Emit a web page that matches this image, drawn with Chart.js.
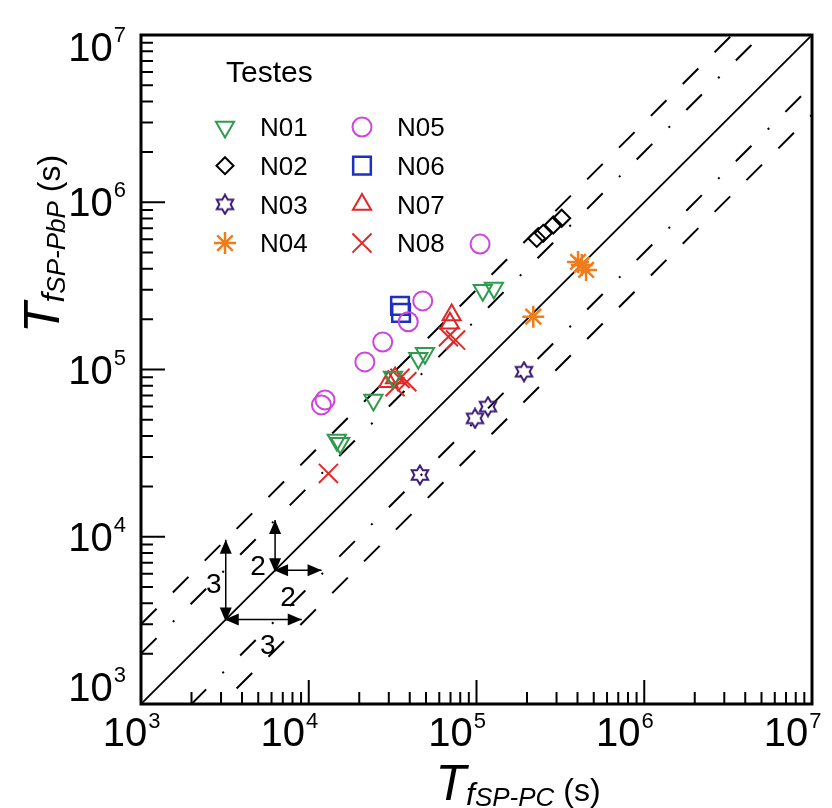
<!DOCTYPE html>
<html>
<head>
<meta charset="utf-8">
<script src="https://cdn.jsdelivr.net/npm/chart.js@4.4.1/dist/chart.umd.min.js"></script>
<style>
  html, body { margin: 0; padding: 0; background: #fff; }
  #wrap { width: 832px; height: 808px; }
</style>
</head>
<body>
<div id="wrap"><canvas id="chart"></canvas></div>
<script>
// axis range, log-log, seconds
const axisMin = 1e3;
const axisMax = 1e7;
const decades = [1e3, 1e4, 1e5, 1e6, 1e7];
const tickExponents = ['3', '4', '5', '6', '7'];

// reference lines  y = k * x
const refFactors = [1, 2, 3, 1 / 2, 1 / 3];

// test series: Tf SP-PC (x) vs Tf SP-PbP (y)
const n01X = [14700, 15400, 24300, 31800, 45000, 49300, 109000, 127000];
const n01Y = [37900, 36200, 65800, 90100, 116600, 125000, 298000, 307000];

const n02X = [228600, 250000, 287000, 322000];
const n02Y = [608000, 652000, 731000, 802000];

const n03X = [192000, 117000, 98000, 46000];
const n03Y = [97000, 60000, 51000, 23400];

const n04X = [403000, 424000, 450000, 218000];
const n04Y = [440000, 422000, 394000, 207000];

const n05X = [105000, 47800, 39200, 27600, 21600, 12500, 11900];
const n05Y = [562000, 257000, 193000, 146000, 111000, 65800, 61400];

const n06X = [35000, 35500];
const n06Y = [240000, 218000];

const n07X = [71100, 69500, 29800, 32700];
const n07Y = [212000, 189000, 84500, 89000];

const n08X = [68000, 75000, 35000, 38400, 32700, 13100];
const n08Y = [157000, 150000, 88500, 84500, 78900, 23900];

// factor-of-2 / factor-of-3 arrows, base point on y = x
const arrowBases = [3200, 6300];
const arrowFactors = [3, 2];

const FONT = '"Liberation Sans", Arial, sans-serif';

function pts(xs, ys) {
    return xs.map((x, i) => ({ x: x, y: ys[i] }));
}

// six-pointed star outline used for N03
function hexagram(color) {
    const c = document.createElement('canvas');
    c.width = 22; c.height = 22;
    const g = c.getContext('2d');
    g.strokeStyle = color;
    g.lineWidth = 2;
    g.beginPath();
    for (let i = 0; i < 12; i++) {
        const r = i % 2 === 0 ? 9.5 : 5.6;
        const a = -Math.PI / 2 + i * Math.PI / 6;
        const px = 11 + r * Math.cos(a), py = 11 + r * Math.sin(a);
        if (i === 0) g.moveTo(px, py); else g.lineTo(px, py);
    }
    g.closePath();
    g.stroke();
    return c;
}

function series(label, xs, ys, color, style, radius, rotation, width) {
    return {
        type: 'scatter',
        label: label,
        data: pts(xs, ys),
        borderColor: color,
        backgroundColor: 'rgba(0,0,0,0)',
        pointStyle: style,
        pointRadius: radius,
        pointRotation: rotation || 0,
        pointBorderWidth: width || 2,
        showLine: false
    };
}

const testSets = [
    series('N01', n01X, n01Y, '#2f9b4e', 'triangle', 10.5, 180),
    series('N02', n02X, n02Y, '#000000', 'rectRot', 8.5),
    series('N03', n03X, n03Y, '#3b1b78', hexagram('#3b1b78'), 10),
    series('N04', n04X, n04Y, '#f07d1c', 'star', 11, 0, 2.5),
    series('N05', n05X, n05Y, '#cf44dc', 'circle', 9.5),
    series('N06', n06X, n06Y, '#1f2fc4', 'rect', 12.5, 0, 2.5),
    series('N07', n07X, n07Y, '#e02626', 'triangle', 10.5),
    series('N08', n08X, n08Y, '#e02a2a', 'crossRot', 13.5)
];

const refSets = refFactors.map(k => ({
    type: 'line',
    label: 'y=' + k + 'x',
    data: [{ x: axisMin, y: axisMin * k }, { x: axisMax, y: axisMax * k }],
    borderColor: '#000',
    borderWidth: k === 1 ? 1.8 : 2,
    borderDash: k === 1 ? [] : (k === 2 || k === 0.5 ? [22, 23, 2, 23] : [22, 23]),
    pointRadius: 0,
    fill: false
}));

// frame, inward ticks and 10^n labels
const framePlugin = {
    id: 'frame',
    afterDatasetsDraw(chart) {
        const ctx = chart.ctx;
        const xs = chart.scales.x, ys = chart.scales.y;
        const a = chart.chartArea;
        ctx.save();
        ctx.strokeStyle = '#000';
        ctx.lineWidth = 3;
        ctx.strokeRect(a.left, a.top, a.right - a.left, a.bottom - a.top);

        ctx.lineWidth = 2;
        ctx.beginPath();
        decades.forEach((d, i) => {
            if (i === decades.length - 1) return;
            for (let m = 1; m < 10; m++) {
                const v = m * d;
                const len = m === 1 ? 24 : 12;
                if (m === 1 && i === 0) continue;
                const px = xs.getPixelForValue(v);
                ctx.moveTo(px, a.bottom);
                ctx.lineTo(px, a.bottom - len);
                const py = ys.getPixelForValue(v);
                ctx.moveTo(a.left, py);
                ctx.lineTo(a.left + len, py);
            }
        });
        ctx.stroke();

        ctx.fillStyle = '#000';
        ctx.textBaseline = 'alphabetic';
        ctx.textAlign = 'left';
        const big = '40px ' + FONT, sup = '22px ' + FONT;
        decades.forEach((d, i) => {
            ctx.font = big;
            const w1 = ctx.measureText('10').width;
            ctx.font = sup;
            const w2 = ctx.measureText(tickExponents[i]).width;
            // x axis label, pulled a little left of the tick
            const px = Math.max(xs.getPixelForValue(d) - 20, a.left - 10);
            let x0 = px - (w1 + w2) / 2;
            ctx.font = big;
            ctx.fillText('10', x0, a.bottom + 42);
            ctx.font = sup;
            ctx.fillText(tickExponents[i], x0 + w1 + 1, a.bottom + 24);
            // y axis label, end labels pulled inside
            const py = Math.min(Math.max(ys.getPixelForValue(d), a.top + 12), a.bottom - 17);
            x0 = a.left - 16 - w1 - w2;
            ctx.font = big;
            ctx.fillText('10', x0, py + 14);
            ctx.font = sup;
            ctx.fillText(tickExponents[i], x0 + w1 + 1, py - 5);
        });
        ctx.restore();
    }
};

function drawRuns(ctx, runs, cx, y) {
    let total = 0;
    runs.forEach(r => { ctx.font = r.font; r.w = ctx.measureText(r.t).width; total += r.w; });
    let x = cx - total / 2;
    runs.forEach(r => {
        ctx.font = r.font;
        ctx.fillText(r.t, x, y + r.dy);
        x += r.w;
    });
}

const titlePlugin = {
    id: 'titles',
    afterDraw(chart) {
        const ctx = chart.ctx;
        ctx.save();
        ctx.fillStyle = '#000';
        ctx.textAlign = 'left';
        ctx.textBaseline = 'alphabetic';
        drawRuns(ctx, [
            { t: 'T', font: 'italic 50px ' + FONT, dy: 0 },
            { t: 'f', font: 'italic 32px ' + FONT, dy: 5 },
            { t: 'SP-PC', font: 'italic 26px ' + FONT, dy: 6 },
            { t: ' (s)', font: '32px ' + FONT, dy: 1 }
        ], 518, 800);
        ctx.translate(59, 244);
        ctx.rotate(-Math.PI / 2);
        drawRuns(ctx, [
            { t: 'T', font: 'italic 50px ' + FONT, dy: 0 },
            { t: 'f', font: 'italic 32px ' + FONT, dy: 5 },
            { t: 'SP-PbP', font: 'italic 26px ' + FONT, dy: 6 },
            { t: ' (s)', font: '32px ' + FONT, dy: 1 }
        ], 0, 0);
        ctx.restore();
    }
};

// legend: title + two columns of four
const legendPlugin = {
    id: 'testLegend',
    afterDraw(chart) {
        const ctx = chart.ctx;
        ctx.save();
        ctx.textAlign = 'left';
        ctx.textBaseline = 'alphabetic';
        ctx.fillStyle = '#000';
        ctx.font = '30px ' + FONT;
        ctx.fillText('Testes', 226, 82);
        ctx.font = '26px ' + FONT;
        ctx.textBaseline = 'middle';
        testSets.forEach((ds, i) => {
            const col = Math.floor(i / 4), row = i % 4;
            const mx = 225 + col * 137, my = 127 + row * 38.7;
            ctx.strokeStyle = ds.borderColor;
            ctx.fillStyle = 'rgba(0,0,0,0)';
            ctx.lineWidth = ds.pointBorderWidth;
            Chart.helpers.drawPoint(ctx, {
                pointStyle: ds.pointStyle,
                radius: ds.pointRadius,
                rotation: ds.pointRotation,
                borderWidth: ds.pointBorderWidth
            }, mx, my);
            ctx.fillStyle = '#000';
            ctx.fillText(ds.label, mx + 35, my + 2);
        });
        ctx.restore();
    }
};

// factor arrows drawn from the 1:1 line
function arrowHead(ctx, x, y, dir) {
    const L = 14, H = 6;
    ctx.beginPath();
    if (dir === 'up') { ctx.moveTo(x, y); ctx.lineTo(x - H, y + L); ctx.lineTo(x + H, y + L); }
    if (dir === 'down') { ctx.moveTo(x, y); ctx.lineTo(x - H, y - L); ctx.lineTo(x + H, y - L); }
    if (dir === 'right') { ctx.moveTo(x, y); ctx.lineTo(x - L, y - H); ctx.lineTo(x - L, y + H); }
    if (dir === 'left') { ctx.moveTo(x, y); ctx.lineTo(x + L, y - H); ctx.lineTo(x + L, y + H); }
    ctx.closePath();
    ctx.fill();
}

const arrowPlugin = {
    id: 'arrows',
    afterDatasetsDraw(chart) {
        const ctx = chart.ctx;
        const xs = chart.scales.x, ys = chart.scales.y;
        ctx.save();
        ctx.strokeStyle = '#000';
        ctx.fillStyle = '#000';
        ctx.lineWidth = 1.5;
        ctx.font = '28px ' + FONT;
        ctx.textBaseline = 'middle';
        ctx.textAlign = 'center';
        arrowBases.forEach((b, i) => {
            const k = arrowFactors[i];
            const x0 = xs.getPixelForValue(b), y0 = ys.getPixelForValue(b);
            const yT = ys.getPixelForValue(b * k), xT = xs.getPixelForValue(b * k) - 4;
            ctx.beginPath();
            ctx.moveTo(x0, y0); ctx.lineTo(x0, yT);
            ctx.moveTo(x0, y0); ctx.lineTo(xT, y0);
            ctx.stroke();
            arrowHead(ctx, x0, yT, 'up');
            arrowHead(ctx, xT, y0, 'right');
            arrowHead(ctx, x0, y0 + 2, 'down');
            arrowHead(ctx, x0 - 1, y0, 'left');
            if (k === 3) {
                ctx.fillText(String(k), x0 - 12, (y0 + yT) / 2 + 6);
                ctx.fillText(String(k), (x0 + xT) / 2 + 4, y0 + 27);
            } else {
                ctx.fillText(String(k), x0 - 17, y0 - 3);
                ctx.fillText(String(k), x0 + 13, y0 + 28);
            }
        });
        ctx.restore();
    }
};

new Chart(document.getElementById('chart'), {
    type: 'scatter',
    data: { datasets: testSets.concat(refSets) },
    options: {
        responsive: true,
        maintainAspectRatio: false,
        animation: false,
        layout: { padding: { left: 141, right: 20, top: 35, bottom: 104 } },
        scales: {
            x: { type: 'logarithmic', min: axisMin, max: axisMax, display: false },
            y: { type: 'logarithmic', min: axisMin, max: axisMax, display: false }
        },
        plugins: { legend: { display: false }, tooltip: { enabled: false } }
    },
    plugins: [framePlugin, arrowPlugin, titlePlugin, legendPlugin]
});
</script>
</body>
</html>
